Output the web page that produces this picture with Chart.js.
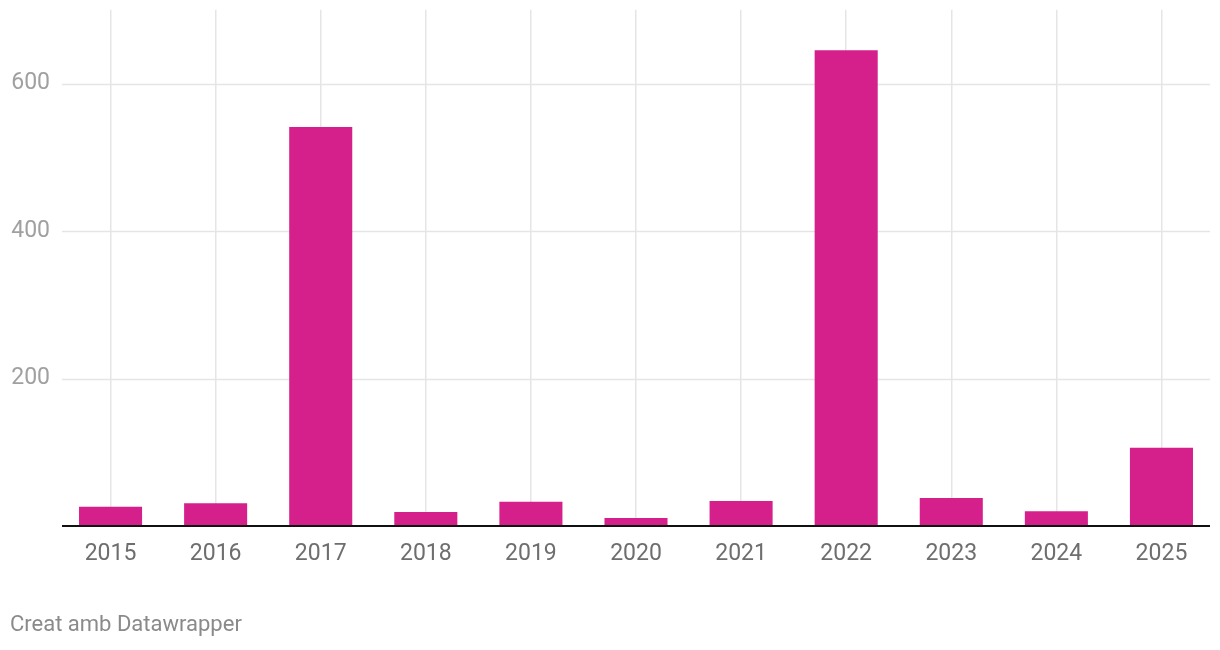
<!DOCTYPE html>
<html>
<head>
<meta charset="utf-8">
<script src="https://cdn.jsdelivr.net/npm/chart.js@4"></script>
<style>
  html, body { margin: 0; padding: 0; background: #fff; }
  #wrap { position: relative; width: 1220px; height: 650px; overflow: hidden; }
  #chart { position: absolute; left: 0; top: -4px; }
  #footer {
    position: absolute; left: 10px; top: 611px;
    font-family: Roboto, sans-serif; font-size: 22px; color: #8a8a8a;
  }
</style>
</head>
<body>
<div id="wrap">
  <canvas id="chart" width="1220" height="650"></canvas>
  <div id="footer">Creat amb Datawrapper</div>
</div>
<script>
const years = ['2015', '2016', '2017', '2018', '2019', '2020', '2021', '2022', '2023', '2024', '2025'];
const values = [26, 31, 541, 19, 33, 11, 34, 645, 38, 20, 106];
const yTicks = [0, 200, 400, 600];

const barColor = '#d51f8b';

// horizontal grid + black baseline, drawn across the plot like Datawrapper
const gridPlugin = {
    id: 'dwGrid',
    beforeDatasetsDraw(chart) {
        const ctx = chart.ctx;
        const y = chart.scales.y;
        ctx.save();
        ctx.strokeStyle = '#e5e5e5';
        ctx.lineWidth = 1.5;
        yTicks.slice(1).forEach(v => {
            const py = Math.round(y.getPixelForValue(v)) + 0.5;
            ctx.beginPath();
            ctx.moveTo(62, py);
            ctx.lineTo(1210, py);
            ctx.stroke();
        });
        ctx.restore();
    },
    afterDatasetsDraw(chart) {
        const ctx = chart.ctx;
        const py = chart.scales.y.getPixelForValue(0);
        ctx.save();
        ctx.strokeStyle = '#111';
        ctx.lineWidth = 2;
        ctx.beginPath();
        ctx.moveTo(62, py);
        ctx.lineTo(1210, py);
        ctx.stroke();
        ctx.restore();
    }
};

new Chart(document.getElementById('chart'), {
    type: 'bar',
    data: {
        labels: years,
        datasets: [{
            data: values,
            backgroundColor: barColor,
            barPercentage: 0.6,
            categoryPercentage: 1
        }]
    },
    options: {
        responsive: false,
        animation: false,
        layout: { padding: { top: 0, right: 6, bottom: 65, left: 0 } },
        plugins: {
            legend: { display: false },
            tooltip: { enabled: false }
        },
        scales: {
            x: {
                offset: true,
                grid: {
                    offset: false,
                    color: '#e5e5e5',
                    lineWidth: 1.5,
                    drawTicks: false
                },
                border: { display: false },
                ticks: {
                    padding: 14,
                    color: '#6e6e6e',
                    font: { family: 'Roboto', size: 23 }
                },
                afterFit(scale) { scale.height = 55; }
            },
            y: {
                min: 0,
                max: 700,
                grid: { display: false },
                border: { display: false },
                afterBuildTicks(scale) {
                    scale.ticks = yTicks.filter(v => v > 0).map(v => ({ value: v }));
                },
                ticks: {
                    padding: 0,
                    color: '#a0a0a0',
                    font: { family: 'Roboto', size: 23 }
                },
                afterFit(scale) { scale.width = 58; }
            }
        }
    },
    plugins: [gridPlugin]
});
</script>
</body>
</html>
